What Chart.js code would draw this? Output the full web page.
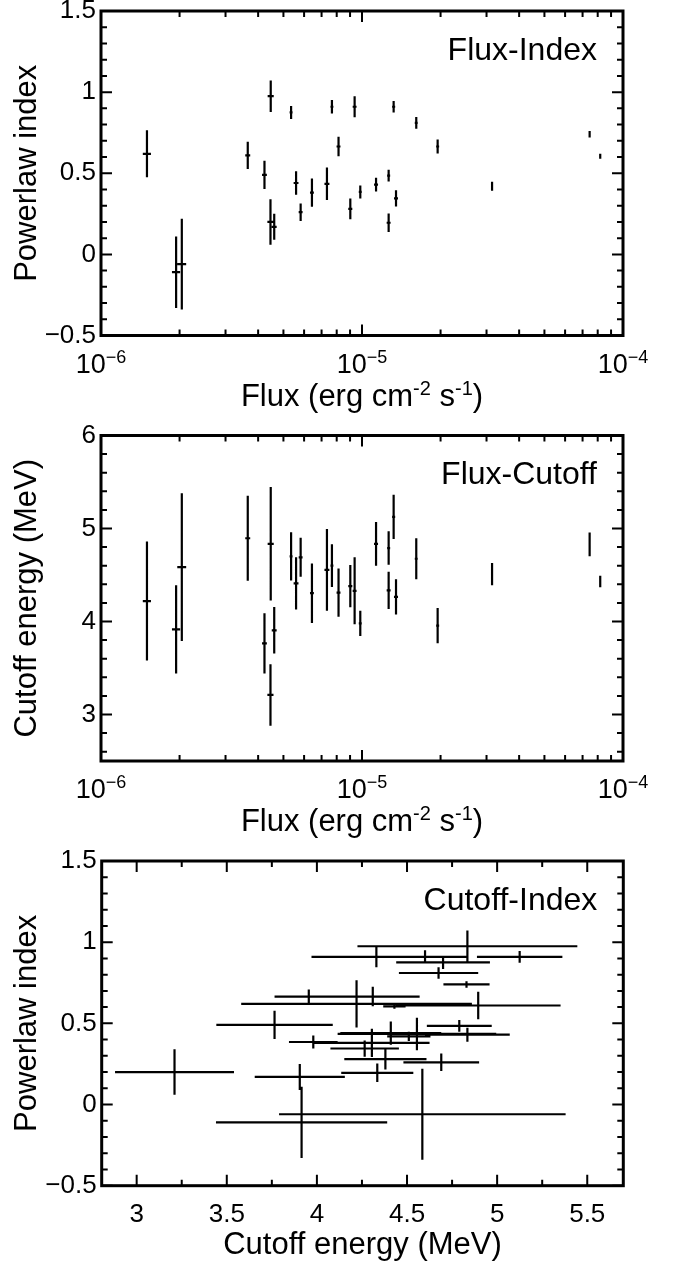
<!DOCTYPE html>
<html>
<head>
<meta charset="utf-8">
<title>Flux / Cutoff / Index</title>
<script src="https://cdn.jsdelivr.net/npm/chart.js@4.4.0/dist/chart.umd.min.js"></script>
<style>
  html, body { margin: 0; padding: 0; background: #fff; }
  body { width: 678px; height: 1269px; position: relative; overflow: hidden; }
  .panel { position: absolute; left: 0; width: 678px; height: 433px; }
</style>
</head>
<body>
<div class="panel" style="top:-10px"><canvas id="fluxIndex"></canvas></div>
<div class="panel" style="top:413px"><canvas id="fluxCutoff"></canvas></div>
<div class="panel" style="top:836px"><canvas id="cutoffIndex"></canvas></div>
<script>
'use strict';

// flux in erg cm^-2 s^-1, one entry per interval
let flux = [1.50e-6, 1.94e-6, 2.04e-6, 3.65e-6, 4.23e-6, 4.46e-6, 4.47e-6, 4.61e-6, 5.35e-6, 5.59e-6,
  5.82e-6, 6.43e-6, 7.34e-6, 7.67e-6, 8.13e-6, 9.02e-6, 9.37e-6, 9.85e-6, 1.132e-5, 1.265e-5,
  1.265e-5, 1.322e-5, 1.350e-5, 1.614e-5, 1.949e-5, 3.15e-5, 7.45e-5, 8.18e-5];
let fluxErr = [0.054e-6, 0.07e-6, 0.08e-6, 0.08e-6, 0.09e-6, 0.12e-6, 0.12e-6, 0.10e-6, 0.07e-6, 0.12e-6,
  0.10e-6, 0.11e-6, 0.16e-6, 0.10e-6, 0.14e-6, 0.16e-6, 0.16e-6, 0.13e-6, 0.20e-6, 0.17e-6,
  0.22e-6, 0.18e-6, 0.24e-6, 0.21e-6, 0.26e-6, 0.28e-6, 0.66e-6, 0.72e-6];
let index = [0.62, -0.11, -0.06, 0.61, 0.49, 0.20, 0.975, 0.17, 0.875, 0.44,
  0.26, 0.38, 0.435, 0.91, 0.665, 0.28, 0.91, 0.385, 0.43, 0.485,
  0.195, 0.91, 0.345, 0.81, 0.665, 0.42, 0.74, 0.605];
let indexErr = [0.145, 0.22, 0.28, 0.084, 0.087, 0.14, 0.097, 0.08, 0.04, 0.072,
  0.054, 0.087, 0.10, 0.041, 0.06, 0.064, 0.065, 0.04, 0.043, 0.036,
  0.057, 0.036, 0.05, 0.036, 0.043, 0.028, 0.02, 0.015];
// cutoff energy in MeV
let cutoff = [4.22, 3.915, 4.585, 4.895, 3.765, 3.21, 4.835, 3.905, 4.70, 4.41,
  4.69, 4.305, 4.555, 4.60, 4.31, 4.38, 4.33, 3.98, 4.835, 4.79,
  4.335, 5.125, 4.265, 4.675, 3.955, 4.51, 4.83, 4.43];
let cutoffErr = [0.64, 0.475, 0.795, 0.457, 0.323, 0.33, 0.61, 0.25, 0.26, 0.28,
  0.21, 0.32, 0.44, 0.23, 0.26, 0.228, 0.36, 0.135, 0.235, 0.18,
  0.20, 0.237, 0.19, 0.22, 0.19, 0.12, 0.128, 0.062];

let fluxTicks = [1e-6, 1e-5, 1e-4];
let fluxTickExp = ['\u22126', '\u22125', '\u22124'];
let indexTicks = [-0.5, 0, 0.5, 1, 1.5];
let cutoffTicks = [3, 4, 5, 6];
let energyTicks = [3, 3.5, 4, 4.5, 5, 5.5];

const FONT = '"Liberation Sans", Arial, Helvetica, sans-serif';
Chart.defaults.font.family = FONT;
Chart.defaults.color = '#000';

// minor tick lists
let fluxMinor = [];
[1e-6, 1e-5].forEach(d => { for (let m = 2; m <= 9; m++) fluxMinor.push(m * d); });
let indexMinor = [];
for (let k = -4; k < 15; k++) { if (k % 5 !== 0) indexMinor.push(k / 10); }
let cutoffMinor = [];
for (let k = 13; k < 30; k++) { if (k % 5 !== 0) cutoffMinor.push(k / 5); }
let energyMinor = [];
for (let k = 13; k <= 21; k += 2) energyMinor.push(k / 4);

function fmt(v) {
  return v < 0 ? '\u2212' + Math.abs(v) : String(v);
}

// error bars drawn from the dataset values through the chart scales
const errorBars = {
  id: 'errorBars',
  afterDatasetsDraw(chart) {
    let ctx = chart.ctx;
    let xs = chart.scales.x;
    let ys = chart.scales.y;
    let ds = chart.data.datasets[0];
    ctx.save();
    ctx.strokeStyle = '#000';
    ctx.lineWidth = 2.2;
    ctx.beginPath();
    ds.data.forEach((p, i) => {
      let px = xs.getPixelForValue(p.x);
      let py = ys.getPixelForValue(p.y);
      if (ds.xErr) {
        ctx.moveTo(xs.getPixelForValue(p.x - ds.xErr[i]), py);
        ctx.lineTo(xs.getPixelForValue(p.x + ds.xErr[i]), py);
      }
      if (ds.yErr) {
        ctx.moveTo(px, ys.getPixelForValue(p.y - ds.yErr[i]));
        ctx.lineTo(px, ys.getPixelForValue(p.y + ds.yErr[i]));
      }
    });
    ctx.stroke();
    ctx.restore();
  }
};

function supText(ctx, parts, cx, y, big, small, rise) {
  let w = 0;
  parts.forEach(p => {
    ctx.font = (p[1] ? small : big) + 'px ' + FONT;
    w += ctx.measureText(p[0]).width;
  });
  let x = cx - w / 2;
  ctx.textAlign = 'left';
  ctx.textBaseline = 'alphabetic';
  parts.forEach(p => {
    ctx.font = (p[1] ? small : big) + 'px ' + FONT;
    ctx.fillText(p[0], x, p[1] ? y - rise : y);
    x += ctx.measureText(p[0]).width;
  });
}

// box with inward ticks on all sides, panel label and log-axis labels
const frame = {
  id: 'frame',
  afterDraw(chart, args, opts) {
    let ctx = chart.ctx;
    let a = chart.chartArea;
    let xs = chart.scales.x;
    let ys = chart.scales.y;
    ctx.save();
    ctx.strokeStyle = '#000';
    ctx.fillStyle = '#000';
    ctx.lineWidth = 2;
    ctx.beginPath();
    let xt = opts.xMajor.map(v => [v, 11]).concat(opts.xMinor.map(v => [v, 6]));
    xt.forEach(t => {
      let p = xs.getPixelForValue(t[0]);
      ctx.moveTo(p, a.bottom); ctx.lineTo(p, a.bottom - t[1]);
      ctx.moveTo(p, a.top); ctx.lineTo(p, a.top + t[1]);
    });
    let yt = opts.yMajor.map(v => [v, 11]).concat(opts.yMinor.map(v => [v, 6]));
    yt.forEach(t => {
      let p = ys.getPixelForValue(t[0]);
      ctx.moveTo(a.left, p); ctx.lineTo(a.left + t[1], p);
      ctx.moveTo(a.right, p); ctx.lineTo(a.right - t[1], p);
    });
    ctx.stroke();
    ctx.lineWidth = 3;
    ctx.strokeRect(a.left, a.top, a.right - a.left, a.bottom - a.top);

    ctx.font = '32px ' + FONT;
    ctx.textAlign = 'right';
    ctx.textBaseline = 'alphabetic';
    ctx.fillText(opts.label, a.right - 26, a.top + 48.5);

    if (opts.logAxis) {
      fluxTicks.forEach((v, i) => {
        supText(ctx, [['10', false], [fluxTickExp[i], true]], xs.getPixelForValue(v), a.bottom + 37, 27, 18, 10);
      });
      supText(ctx, [['Flux (erg cm', false], ['-2', true], [' s', false], ['-1', true], [')', false]],
        (a.left + a.right) / 2, a.bottom + 70, 31, 20, 11);
    }
    ctx.restore();
  }
};

Chart.register(errorBars, frame);

function yAxis(min, max, ticks, title, width) {
  return {
    type: 'linear',
    min: min,
    max: max,
    grid: { display: false, drawTicks: false },
    border: { display: false },
    ticks: {
      font: { size: 26, lineHeight: 1 },
      padding: 5,
      autoSkip: false,
      callback: fmt
    },
    afterBuildTicks: s => { s.ticks = ticks.map(v => ({ value: v })); },
    title: { display: true, text: title, font: { size: 31, lineHeight: 1.2 }, padding: { top: 9, bottom: 0 } },
    afterFit: s => { s.width = width; }
  };
}

function fluxAxis(height) {
  return {
    type: 'logarithmic',
    min: 1e-6,
    max: 1e-4,
    grid: { display: false, drawTicks: false },
    border: { display: false },
    ticks: { display: false },
    afterBuildTicks: s => { s.ticks = fluxTicks.map(v => ({ value: v })); },
    afterFit: s => { s.height = height; }
  };
}

function makeChart(id, xs, ys, xErr, yErr, scales, padding, frameOpts) {
  let pts = [];
  for (let i = 0; i < xs.length; i++) {
    pts.push({ x: xs[i], y: ys[i] });
  }
  return new Chart(document.getElementById(id), {
    type: 'scatter',
    data: {
      datasets: [{
        data: pts,
        xErr: xErr,
        yErr: yErr,
        pointRadius: 0,
        pointHoverRadius: 0
      }]
    },
    options: {
      responsive: true,
      maintainAspectRatio: false,
      animation: false,
      events: [],
      layout: { padding: padding },
      plugins: {
        legend: { display: false },
        tooltip: { enabled: false },
        frame: frameOpts
      },
      scales: scales
    }
  });
}

makeChart('fluxIndex', flux, index, fluxErr, indexErr,
  { x: fluxAxis(87.5), y: yAxis(-0.5, 1.5, indexTicks, 'Powerlaw index', 101) },
  { top: 21, right: 55, bottom: 0, left: 0 },
  { label: 'Flux-Index', logAxis: true, xMajor: fluxTicks, xMinor: fluxMinor, yMajor: indexTicks, yMinor: indexMinor });

makeChart('fluxCutoff', flux, cutoff, fluxErr, cutoffErr,
  { x: fluxAxis(85), y: yAxis(2.5, 6, cutoffTicks, 'Cutoff energy (MeV)', 101) },
  { top: 22.5, right: 55, bottom: 0, left: 0 },
  { label: 'Flux-Cutoff', logAxis: true, xMajor: fluxTicks, xMinor: fluxMinor, yMajor: cutoffTicks, yMinor: cutoffMinor });

makeChart('cutoffIndex', cutoff, index, cutoffErr, indexErr,
  {
    x: {
      type: 'linear',
      min: 2.806,
      max: 5.7,
      grid: { display: false, drawTicks: false },
      border: { display: false },
      ticks: { font: { size: 26, lineHeight: 1 }, padding: 16, autoSkip: false, maxRotation: 0, callback: fmt },
      afterBuildTicks: s => { s.ticks = energyTicks.map(v => ({ value: v })); },
      title: { display: true, text: 'Cutoff energy (MeV)', font: { size: 31, lineHeight: 1.2 }, padding: { top: 0, bottom: 5 } },
      afterFit: s => { s.height = 83.3; }
    },
    y: yAxis(-0.5, 1.5, indexTicks, 'Powerlaw index', 101.7)
  },
  { top: 25, right: 54.7, bottom: 0, left: 0 },
  { label: 'Cutoff-Index', logAxis: false, xMajor: energyTicks, xMinor: energyMinor, yMajor: indexTicks, yMinor: indexMinor });
</script>
</body>
</html>
